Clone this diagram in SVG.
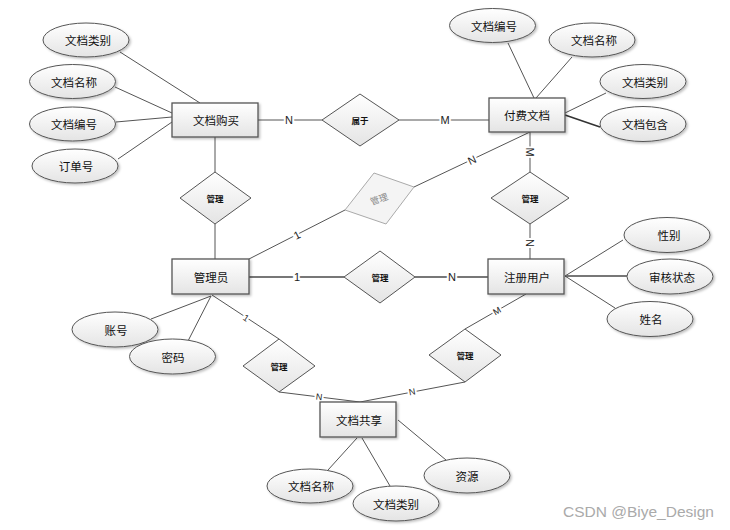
<svg xmlns="http://www.w3.org/2000/svg" width="730" height="530" viewBox="0 0 730 530">
<defs>
<linearGradient id="g" x1="0" y1="0" x2="0" y2="1">
<stop offset="0" stop-color="#ffffff"/>
<stop offset="1" stop-color="#e4e4e4"/>
</linearGradient>
<filter id="sh" x="-10%" y="-10%" width="130%" height="140%">
<feDropShadow dx="1.5" dy="1.5" stdDeviation="1" flood-color="#000" flood-opacity="0.25"/>
</filter>
</defs>
<style>
text{font-family:"Noto Sans CJK SC","Liberation Sans",sans-serif;text-anchor:middle;dominant-baseline:central;fill:#111}
.ent rect{fill:url(#g);stroke:#555;stroke-width:1.3;filter:url(#sh)}
.ent text{font-size:11.5px}
.att ellipse{fill:url(#g);stroke:#555;stroke-width:1;filter:url(#sh)}
.att text{font-size:11.5px}
.rel polygon{fill:url(#g);stroke:#555;stroke-width:1}
.rel text{font-size:8.5px;font-weight:bold}
.conn line{stroke:#555;stroke-width:1}
.lbl{font-size:11px;font-family:"Liberation Sans",sans-serif;stroke:#fff;stroke-width:4;paint-order:stroke;fill:#222}
.wm{font-family:"Liberation Sans",sans-serif;font-size:15.5px;fill:#aaa;text-anchor:start}
</style>
<rect width="730" height="530" fill="#fff"/>
<g id="connectors" class="conn">
<line x1="258" y1="120" x2="322" y2="120"/>
<line x1="399" y1="120" x2="489" y2="120"/>
<line x1="215" y1="137" x2="215" y2="172"/>
<line x1="215" y1="224" x2="215" y2="259"/>
<line x1="249" y1="259" x2="345" y2="210"/>
<line x1="414" y1="187" x2="530" y2="132"/>
<line x1="530" y1="132" x2="530" y2="172"/>
<line x1="530" y1="224" x2="530" y2="259"/>
<line x1="249" y1="277" x2="344" y2="277" style="stroke:#777;stroke-width:1.8"/>
<line x1="415" y1="277" x2="488" y2="277" style="stroke:#777;stroke-width:1.8"/>
<line x1="212" y1="295" x2="279" y2="339"/>
<line x1="279" y1="392" x2="360" y2="402"/>
<line x1="360" y1="402" x2="465" y2="382"/>
<line x1="465" y1="329" x2="526" y2="294"/>
<line x1="120" y1="52" x2="200" y2="103"/>
<line x1="115" y1="87" x2="172" y2="113"/>
<line x1="116" y1="122" x2="172" y2="117"/>
<line x1="118" y1="159" x2="172" y2="122"/>
<line x1="508" y1="43" x2="534" y2="98"/>
<line x1="572" y1="57" x2="536" y2="98"/>
<line x1="606" y1="93" x2="565" y2="113"/>
<line x1="565" y1="115" x2="600" y2="127" style="stroke-width:1.6;stroke:#333"/>
<line x1="565" y1="276" x2="623" y2="240"/>
<line x1="565" y1="276" x2="627" y2="276" style="stroke:#777;stroke-width:1.8"/>
<line x1="565" y1="276" x2="615" y2="308"/>
<line x1="211" y1="296" x2="151" y2="319"/>
<line x1="211" y1="296" x2="188" y2="341"/>
<line x1="357" y1="438" x2="328" y2="470"/>
<line x1="362" y1="438" x2="390" y2="486"/>
<line x1="398" y1="420" x2="446" y2="460"/>
<text class="lbl" x="289" y="120">N</text>
<text class="lbl" x="445" y="120">M</text>
<text class="lbl" x="297" y="235" transform="rotate(-27 297 235)">1</text>
<text class="lbl" x="472" y="160" transform="rotate(-25 472 160)">N</text>
<text class="lbl" x="530" y="152" transform="rotate(90 530 152)">M</text>
<text class="lbl" x="530" y="243" transform="rotate(90 530 243)">N</text>
<text class="lbl" x="297" y="277">1</text>
<text class="lbl" x="452" y="277">N</text>
<text class="lbl" x="246" y="318" transform="rotate(33 246 318)" style="font-size:9px">1</text>
<text class="lbl" x="319" y="397" transform="rotate(7 319 397)" style="font-size:9px">N</text>
<text class="lbl" x="412" y="392" transform="rotate(-11 412 392)" style="font-size:9px">N</text>
<text class="lbl" x="497" y="311" transform="rotate(-30 497 311)" style="font-size:9px">M</text>
</g>
<g id="e-wdgm" class="ent"><rect x="172" y="103" width="86" height="34"/><text x="216" y="120">文档购买</text></g>
<g id="e-ffwd" class="ent"><rect x="489" y="98" width="76" height="34"/><text x="527" y="115">付费文档</text></g>
<g id="e-gly" class="ent"><rect x="172" y="259" width="77" height="35"/><text x="211" y="277">管理员</text></g>
<g id="e-zcyh" class="ent"><rect x="488" y="259" width="76" height="35"/><text x="527" y="277">注册用户</text></g>
<g id="e-wdgx" class="ent"><rect x="320" y="402" width="76" height="35"/><text x="359" y="420">文档共享</text></g>
<g id="r-sy" class="rel"><polygon points="360,94 399,120 360,146 322,120"/><text x="360" y="120">属于</text></g>
<g id="r-gl1" class="rel"><polygon points="215,172 251,198 215,224 180,198"/><text x="215" y="198">管理</text></g>
<g id="r-gl2" class="rel"><polygon points="530,172 569,198 530,224 491,198"/><text x="530" y="198">管理</text></g>
<g id="r-gl3" class="rel"><polygon points="380,251 415,277 380,303 344,277"/><text x="380" y="277">管理</text></g>
<g id="r-gl4" class="rel"><polygon points="279,339 315,366 279,392 243,366"/><text x="279" y="366">管理</text></g>
<g id="r-gl5" class="rel"><polygon points="465,329 501,355 465,382 429,355"/><text x="465" y="355">管理</text></g>
<g id="r-gl6" class="rel"><polygon points="374,173 414,187 386,224 345,210" style="stroke:#aaa;fill:#f4f4f4"/><text x="379" y="199" transform="rotate(-20 379 199)" style="fill:#888;font-weight:normal;font-size:9px">管理</text></g>
<g id="a1" class="att"><ellipse cx="86" cy="40" rx="43" ry="17"/><text x="88" y="40">文档类别</text></g>
<g id="a2" class="att"><ellipse cx="72.5" cy="81.5" rx="43" ry="17"/><text x="74" y="81.5">文档名称</text></g>
<g id="a3" class="att"><ellipse cx="72.5" cy="124" rx="43" ry="17"/><text x="74" y="124">文档编号</text></g>
<g id="a4" class="att"><ellipse cx="75" cy="166" rx="43" ry="17"/><text x="76" y="166">订单号</text></g>
<g id="a5" class="att"><ellipse cx="492.5" cy="25.5" rx="43" ry="17"/><text x="494" y="25.5">文档编号</text></g>
<g id="a6" class="att"><ellipse cx="592" cy="40" rx="43" ry="17"/><text x="594" y="40">文档名称</text></g>
<g id="a7" class="att"><ellipse cx="643" cy="81.5" rx="43" ry="17"/><text x="645" y="81.5">文档类别</text></g>
<g id="a8" class="att"><ellipse cx="643" cy="124" rx="43" ry="17.5"/><text x="645" y="124">文档包含</text></g>
<g id="a9" class="att"><ellipse cx="667" cy="235" rx="43" ry="17.5"/><text x="669" y="235">性别</text></g>
<g id="a10" class="att"><ellipse cx="670" cy="276.5" rx="43" ry="17.5"/><text x="672" y="276.5">审核状态</text></g>
<g id="a11" class="att"><ellipse cx="650" cy="319" rx="43" ry="17.5"/><text x="651" y="319">姓名</text></g>
<g id="a12" class="att"><ellipse cx="115" cy="329.5" rx="43" ry="17.5"/><text x="116" y="329.5">账号</text></g>
<g id="a13" class="att"><ellipse cx="172.5" cy="356.5" rx="43" ry="17.5"/><text x="173" y="356.5">密码</text></g>
<g id="a14" class="att"><ellipse cx="310" cy="486" rx="43" ry="17"/><text x="311" y="486">文档名称</text></g>
<g id="a15" class="att"><ellipse cx="396" cy="503.5" rx="43" ry="17.5"/><text x="396" y="503.5">文档类别</text></g>
<g id="a16" class="att"><ellipse cx="467" cy="475.5" rx="43" ry="17.5"/><text x="467" y="475.5">资源</text></g>
<text class="wm" x="563" y="511">CSDN @Biye_Design</text>
</svg>
